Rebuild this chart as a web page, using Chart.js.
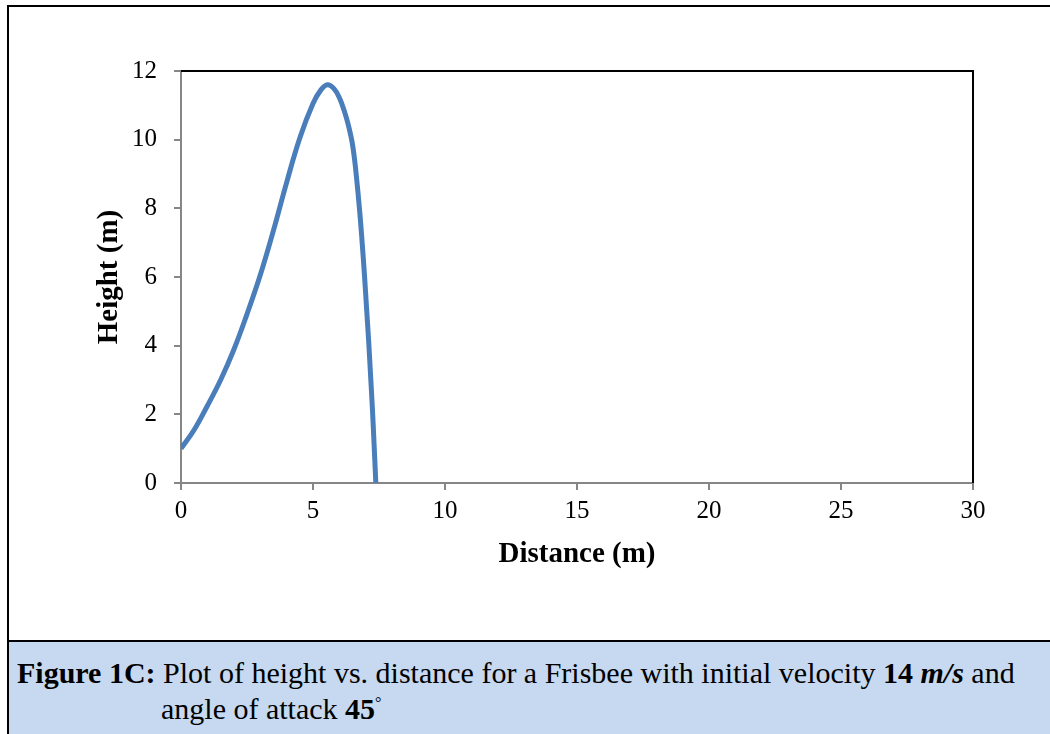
<!DOCTYPE html>
<html>
<head>
<meta charset="utf-8">
<script src="https://cdn.jsdelivr.net/npm/chart.js@4/dist/chart.umd.min.js"></script>
<style>
    html, body { margin: 0; padding: 0; background: #fff; overflow: hidden; }
    body { width: 1050px; height: 734px; position: relative; font-family: 'Liberation Serif', 'Times New Roman', serif; }
    #frame { position: absolute; left: 7px; top: 5px; width: 1100px; height: 800px; border-left: 2px solid #000; border-top: 2px solid #000; }
    #chartBox { position: absolute; left: 0; top: 0; width: 1050px; height: 640px; }
    #caption { position: absolute; left: 9px; top: 640px; width: 1100px; height: 100px; background: #C6D9F1; border-top: 2px solid #000; }
    #caption p { margin: 0; position: absolute; left: 8px; font-size: 30px; line-height: 30px; color: #000; white-space: nowrap; }
    #line1 { top: 16px; }
    #line2 { top: 46px; left: 152px !important; }
    .mb { font-weight: bold; font-style: italic; }
</style>
</head>
<body>
<div id="frame"></div>
<div id="chartBox"><canvas id="heightChart" width="1050" height="640"></canvas></div>
<div id="caption">
    <p id="line1"><b>Figure 1C:</b> Plot of height vs. distance for a Frisbee with initial velocity <b>14</b> <span class="mb">m/s</span> and</p>
    <p id="line2">angle of attack <b>45</b><sup style="font-size:16px">°</sup></p>
</div>
<script>
// 비행 궤적 (거리 m, 높이 m) - 그림에서 읽은 값
const distance = [0, 0.5, 1.0, 1.5, 2.0, 2.5, 3.0, 3.5, 4.0, 4.5, 5.0, 5.3, 5.55,
    5.8, 6.0, 6.2, 6.33, 6.48, 6.57, 6.64, 6.77, 6.86, 6.95, 7.03, 7.11, 7.18, 7.25, 7.31, 7.38];
const height = [1.0, 1.55, 2.25, 3.0, 3.88, 4.92, 6.05, 7.35, 8.75, 10.05, 11.05, 11.45, 11.6,
    11.48, 11.22, 10.8, 10.45, 9.93, 9.45, 8.96, 7.9, 7.02, 6.05, 5.08, 4.11, 3.14, 2.17, 1.19, 0];

const X_MIN = 0, X_MAX = 30, X_STEP = 5;
const Y_MIN = 0, Y_MAX = 12, Y_STEP = 2;

const AXIS_GREY = '#868686';
const SERIF = "'Liberation Serif', 'Times New Roman', serif";

// 플롯 영역 위/오른쪽 테두리
const plotFrame = {
    id: 'plotFrame',
    afterDatasetsDraw(chart) {
        const a = chart.chartArea;
        const ctx = chart.ctx;
        ctx.save();
        ctx.strokeStyle = '#000';
        ctx.lineWidth = 2;
        ctx.beginPath();
        ctx.moveTo(a.left, a.top);
        ctx.lineTo(a.right, a.top);
        ctx.lineTo(a.right, a.bottom);
        ctx.stroke();
        ctx.restore();
    }
};

const points = distance.map((d, i) => ({ x: d, y: height[i] }));

new Chart(document.getElementById('heightChart'), {
    type: 'line',
    data: {
        datasets: [{
            data: points,
            borderColor: '#4A7EBB',
            borderWidth: 5,
            pointRadius: 0,
            fill: false,
            tension: 0.4
        }]
    },
    options: {
        responsive: false,
        animation: false,
        events: [],
        layout: { padding: { left: 0, right: 77, top: 71, bottom: 0 } },
        plugins: { legend: { display: false }, tooltip: { enabled: false } },
        scales: {
            x: {
                type: 'linear',
                min: X_MIN, max: X_MAX,
                afterFit(scale) { scale.height = 157; },
                ticks: { stepSize: X_STEP, color: '#000', padding: 6, font: { family: SERIF, size: 25 } },
                grid: { drawOnChartArea: false, drawTicks: true, tickLength: 7, color: AXIS_GREY, lineWidth: 2 },
                border: { color: AXIS_GREY, width: 2 },
                title: { display: true, text: 'Distance (m)', color: '#000', padding: { top: 0, bottom: 68 },
                    font: { family: SERIF, size: 29, weight: 'bold' } }
            },
            y: {
                type: 'linear',
                min: Y_MIN, max: Y_MAX,
                afterFit(scale) { scale.width = 181; },
                ticks: { stepSize: Y_STEP, color: '#000', padding: 17, font: { family: SERIF, size: 25 } },
                grid: { drawOnChartArea: false, drawTicks: true, tickLength: 7, color: AXIS_GREY, lineWidth: 2 },
                border: { color: AXIS_GREY, width: 2 },
                title: { display: true, text: 'Height (m)', color: '#000', padding: { top: 92, bottom: 0 },
                    font: { family: SERIF, size: 29, weight: 'bold' } }
            }
        }
    },
    plugins: [plotFrame]
});
</script>
</body>
</html>
